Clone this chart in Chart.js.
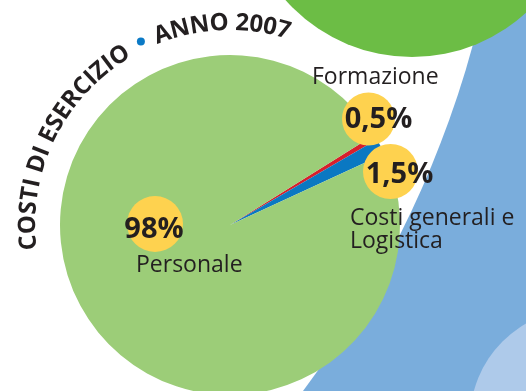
<!DOCTYPE html>
<html>
<head>
<meta charset="utf-8">
<script src="https://cdn.jsdelivr.net/npm/chart.js@4/dist/chart.umd.min.js"></script>
<style>
  html, body { margin: 0; padding: 0; background: #ffffff; overflow: hidden; }
  #wrap { position: relative; width: 526px; height: 391px; }
</style>
</head>
<body>
<div id="wrap"><canvas id="costi" width="526" height="391"></canvas></div>
<script>
// Costi di esercizio, anno 2007 (percentuali)
const categories = ['Formazione', 'Costi generali e Logistica', 'Personale'];
const shares = [0.5, 1.5, 98];
const sliceColors = ['#d81f2c', '#0a78c2', '#9ccd78'];
const titleParts = ['COSTI DI ESERCIZIO', 'ANNO 2007'];

// Label name lines for each category
const nameLines = [['Formazione'], ['Costi generali e', 'Logistica'], ['Personale']];

const INK = '#231f20';
const CX = 230, CY = 225, R = 170;

// Placement of badges and names around the pie
const labelLayout = [
  { badge: [368.5, 119, 26.5], pct: [378.5, 128], name: [312, 84] },
  { badge: [390.5, 171.5, 27.5], pct: [399.5, 183], name: [350, 225] },
  { badge: [155, 224, 28],   pct: [154, 238], name: [136, 272] }
];

function fmtPct(v) {
  return String(v).replace('.', ',') + '%';
}

function circle(ctx, x, y, r, color) {
  ctx.beginPath();
  ctx.arc(x, y, r, 0, Math.PI * 2);
  ctx.fillStyle = color;
  ctx.fill();
}

// Decorative background shapes
const backdrop = {
  id: 'backdrop',
  beforeDraw(chart) {
    const ctx = chart.ctx;
    ctx.save();
    ctx.fillStyle = '#7aaddc';
    ctx.fillRect(0, 0, chart.width, chart.height);
    circle(ctx, -522, -229, 1032, '#ffffff');
    circle(ctx, 581, 420, 111, '#aecaea');
    circle(ctx, 412, -112, 169, '#6cbd45');
    ctx.restore();
  }
};

// Text placed along an arc around the pie
function arcText(ctx, text, r, a0, a1) {
  const chars = Array.from(text);
  const widths = chars.map(c => ctx.measureText(c).width);
  const natural = widths.reduce((s, w) => s + w, 0);
  const target = r * (a1 - a0);
  const gap = chars.length > 1 ? (target - natural) / (chars.length - 1) : 0;
  let off = 0;
  chars.forEach((c, i) => {
    const ang = a0 + (off + widths[i] / 2) / r;
    ctx.save();
    ctx.translate(CX + r * Math.cos(ang), CY + r * Math.sin(ang));
    ctx.rotate(ang + Math.PI / 2);
    ctx.fillText(c, 0, 0);
    ctx.restore();
    off += widths[i] + gap;
  });
}

const annotations = {
  id: 'annotations',
  afterDraw(chart) {
    const ctx = chart.ctx;
    const deg = Math.PI / 180;
    ctx.save();

    // badges with percentages
    labelLayout.forEach(L => {
      const [bx, by, br] = L.badge;
      circle(ctx, bx, by, br, '#fed24f');
    });
    ctx.fillStyle = INK;
    ctx.textBaseline = 'alphabetic';
    ctx.textAlign = 'center';
    ctx.font = 'bold 29px "Open Sans"';
    labelLayout.forEach((L, i) => {
      ctx.fillText(fmtPct(shares[i]), L.pct[0], L.pct[1]);
    });

    // category names
    ctx.textAlign = 'left';
    ctx.font = '23px "Open Sans"';
    labelLayout.forEach((L, i) => {
      nameLines[i].forEach((line, k) => {
        ctx.fillText(line, L.name[0], L.name[1] + k * 23);
      });
    });

    // curved title
    ctx.font = 'bold 24px "Open Sans"';
    ctx.textAlign = 'center';
    arcText(ctx, titleParts[0], 195, 172.8 * deg, 239.7 * deg);
    arcText(ctx, titleParts[1], 195, 248 * deg, 287.4 * deg);
    const dotA = 244.1 * deg;
    circle(ctx, CX + 204 * Math.cos(dotA), CY + 204 * Math.sin(dotA), 4, '#0b7ac6');

    ctx.restore();
  }
};

new Chart(document.getElementById('costi'), {
  type: 'pie',
  data: {
    labels: categories,
    datasets: [{
      data: shares,
      backgroundColor: sliceColors,
      borderWidth: 0,
      radius: R
    }]
  },
  options: {
    responsive: false,
    devicePixelRatio: 1,
    animation: false,
    rotation: 58,
    layout: { padding: { left: 0, right: 66, top: 59, bottom: 0 } },
    plugins: {
      legend: { display: false },
      tooltip: { enabled: false },
      title: { display: false }
    },
    events: []
  },
  plugins: [backdrop, annotations]
});
</script>
</body>
</html>
